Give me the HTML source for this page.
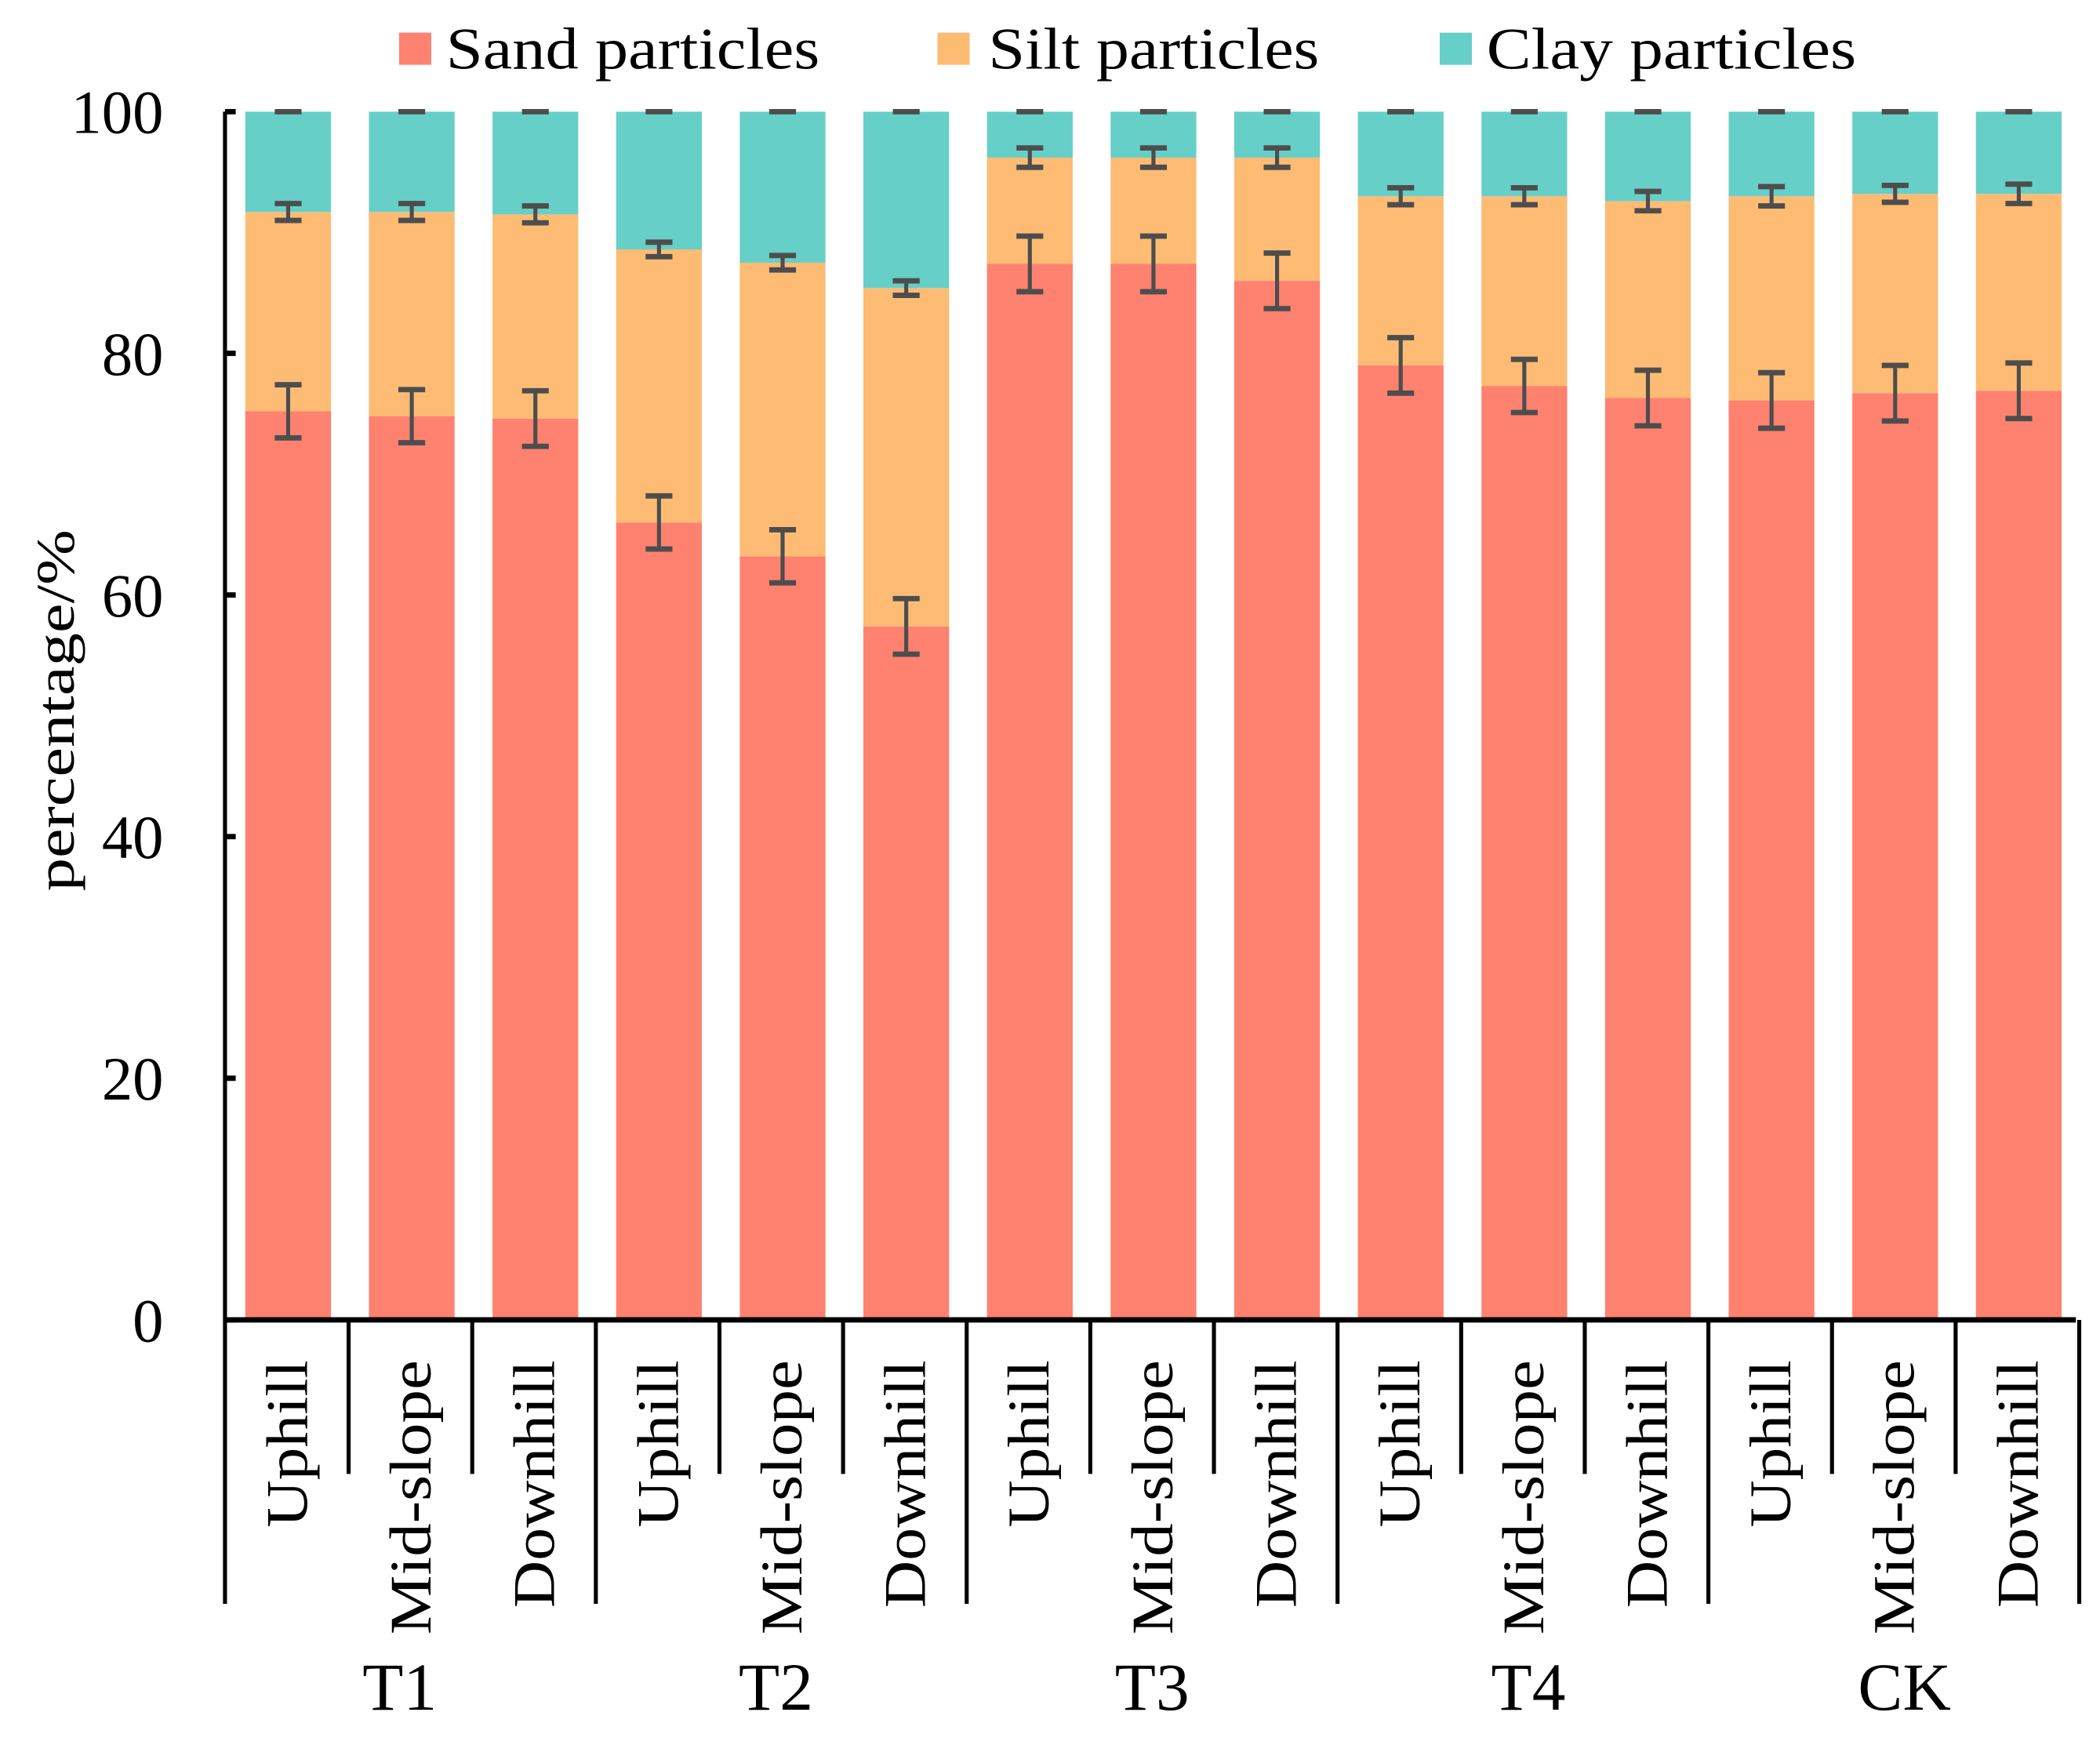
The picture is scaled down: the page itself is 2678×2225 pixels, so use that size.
<!DOCTYPE html>
<html><head><meta charset="utf-8">
<style>
html,body{margin:0;padding:0;background:#fff;}
svg{display:block;font-family:"Liberation Serif",serif;}
</style></head>
<body>
<svg id="chart" width="2678" height="2225" viewBox="0 0 1568 1302" xmlns="http://www.w3.org/2000/svg">
<g id="legend">
  <g><rect x="298" y="24" width="24" height="24" fill="#FF8170"/><text x="333" y="51" font-size="44" textLength="279" lengthAdjust="spacingAndGlyphs">Sand particles</text></g>
  <g><rect x="700" y="24" width="24" height="24" fill="#FEBB74"/><text x="738" y="51" font-size="44" textLength="247" lengthAdjust="spacingAndGlyphs">Silt particles</text></g>
  <g><rect x="1075" y="24" width="24" height="24" fill="#66CFC8"/><text x="1110" y="51" font-size="44" textLength="276" lengthAdjust="spacingAndGlyphs">Clay particles</text></g>
</g>
<g id="bars"></g>
<g id="axes"></g>
<text transform="translate(55,530) rotate(-90)" text-anchor="middle" font-size="40" textLength="270" lengthAdjust="spacingAndGlyphs">percentage/%</text>
</svg>
<script>
const groups = ["T1","T2","T3","T4","CK"];
const positions = ["Uphill","Mid-slope","Downhill"];
const sand = [75.2,74.8,74.6,66.0,63.2,57.4,87.4,87.4,86.0,79.0,77.3,76.3,76.1,76.7,76.9];
const silt = [16.5,16.9,16.9,22.6,24.3,28.0,8.8,8.8,10.2,14.0,15.7,16.3,16.9,16.5,16.3];
const clay = [8.3,8.3,8.5,11.4,12.5,14.6,3.8,3.8,3.8,7.0,7.0,7.4,7.0,6.8,6.8];
const sandErr = [2.2,2.2,2.3,2.2,2.2,2.3,2.3,2.3,2.3,2.3,2.2,2.3,2.3,2.3,2.3];
const siltErr = [0.7,0.7,0.7,0.6,0.6,0.6,0.8,0.8,0.8,0.7,0.7,0.8,0.8,0.7,0.8];
const yTicks = [0,20,40,60,80,100];

const NS="http://www.w3.org/2000/svg";
const x0=168, pitch=92.3, bw=64, yTop=83, yBot=985;
const y = v => yBot - (yBot-yTop)*v/100;
const xc = i => x0 + pitch*i + pitch/2;
const labLen = {"Uphill":125,"Mid-slope":205,"Downhill":185};
function mk(tag, attrs, parent){const e=document.createElementNS(NS,tag);for(const k in attrs)e.setAttribute(k,attrs[k]);parent.appendChild(e);return e;}
const bars=document.getElementById('bars'), axes=document.getElementById('axes');
const colors=["#FF8170","#FEBB74","#66CFC8"];
const names=["sand","silt","clay"];
sand.forEach((s,i)=>{
  const vals=[s,silt[i],clay[i]];
  let base=0;
  vals.forEach((v,k)=>{
    const r=mk('rect',{x:xc(i)-bw/2+1,y:y(base+v),width:bw,height:y(base)-y(base+v),fill:colors[k]},bars);
    
    
    base+=v;
  });
  const tops=[s, s+silt[i], 100];
  const errs=[sandErr[i], siltErr[i], 0];
  tops.forEach((t,k)=>{
    const g=mk('g',{stroke:'#4d4d4d','stroke-width':3,fill:'none'},bars);
    
    
    const cx=xc(i)+1, a=y(t+errs[k]), b=y(t-errs[k]);
    mk('line',{x1:cx,x2:cx,y1:a,y2:b},g);
    mk('line',{x1:cx-10,x2:cx+10,y1:a,y2:a,'stroke-width':4},g);
    if(errs[k]>0) mk('line',{x1:cx-10,x2:cx+10,y1:b,y2:b,'stroke-width':4},g);
  });
  const lab=positions[i%3];
  const t=mk('text',{transform:`translate(${xc(i)+15},1015) rotate(-90)`,'text-anchor':'end','font-size':44,textLength:labLen[lab],lengthAdjust:'spacingAndGlyphs'},axes);
  t.textContent=lab;
  
  
});
const ya=mk('line',{x1:x0,x2:x0,y1:yTop,y2:yBot,stroke:'#000','stroke-width':3},axes);


yTicks.forEach(v=>{
  mk('line',{x1:x0,x2:x0+8,y1:y(v),y2:y(v),stroke:'#000','stroke-width':4},axes);
  const t=mk('text',{x:122,y:y(v)+16,'text-anchor':'end','font-size':46},axes);
  t.textContent=v;
  
  
});
const xa=mk('line',{x1:x0,x2:1550,y1:yBot,y2:yBot,stroke:'#000','stroke-width':4},axes);


for(let i=0;i<=15;i++){
  const long=i%3===0;
  mk('line',{x1:x0+pitch*i,x2:x0+pitch*i,y1:yBot,y2:long?1197:1100,stroke:'#000','stroke-width':3},axes);
}
groups.forEach((g,j)=>{
  const t=mk('text',{x:xc(j*3+1)-8+j*4,y:1276,'text-anchor':'middle','font-size':50},axes);
  t.textContent=g;
  
  
});
</script>
</body></html>
